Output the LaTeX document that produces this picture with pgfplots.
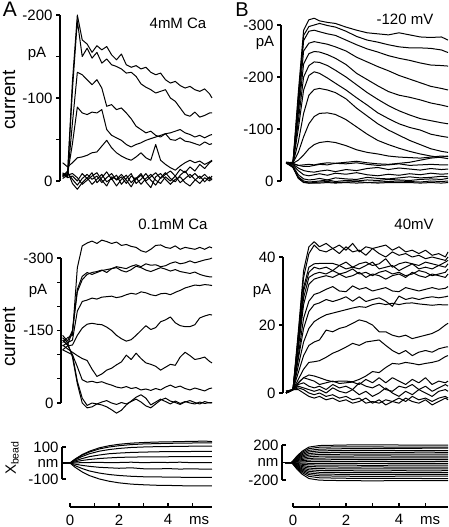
\documentclass[border=0pt]{standalone}
\usepackage{fontspec}
\setmainfont{Liberation Sans}
\usepackage{pgfplots}
\usepackage{pgfplotstable}
\pgfplotsset{compat=1.18}
\newcommand{\fs}[1]{\fontsize{#1}{#1}\selectfont}

% ---------- Panel A top (4mM Ca), magnitude of current in pA ----------
\pgfplotstableread{
id p1 p2 p3 p4 p5 p6 p7 p8 p9 p10 p11 p12 p13 p14 p15 p16 p17 p18 p19 p20 p21 p22 p23 p24 p25 p26 p27 p28 p29 p30 p31 p32
t -0.3 -0.1 0.1 0.3 0.5 0.7 0.9 1.1 1.3 1.5 1.7 1.9 2.1 2.3 2.5 2.7 2.9 3.1 3.3 3.5 3.7 3.9 4.1 4.3 4.5 4.7 4.9 5.1 5.3 5.5 5.7 5.8
a1 6 9 120 200 170 165 155 163 158 162 152 146 153 140 137 139 135 137 131 128 130 122 118 120 115 112 114 110 108 111 105 100
a2 8 6 110 193 150 160 148 155 142 147 140 138 135 130 131 126 117 113 110 106 108 110 100 96 88 80 78 83 77 79 82 82
a3 7 5 70 131 128 122 116 122 112 90 92 86 88 82 75 66 62 58 60 55 53 57 50 49 52 48 47 45 43 47 44 45
a4 6 8 45 89 82 80 83 82 86 62 55 52 49 44 41 44 46 49 51 53 55 57 58 60 62 58 56 53 55 52 55 56
a5 22 17 22 28 29 31 34 35 42 49 40 34 30 27 25 29 34 28 25 44 25 20 16 13 18 22 25 22 24 20 23 25
a6 8 10 2 -5 3 8 2 6 -2 4 9 1 5 -3 6 2 7 0 5 10 3 8 12 6 14 10 17 12 20 15 22 24
a7 5 12 -3 -10 -2 4 -4 2 8 -1 3 -6 2 7 -2 4 -4 3 8 1 -3 5 0 6 -2 3 8 2 -3 4 0 3
a8 10 4 6 0 9 3 10 -2 4 11 2 7 -4 3 9 -3 2 9 1 -5 4 10 3 -1 7 12 4 9 3 8 2 6
a9 3 7 9 4 -4 1 6 10 1 -6 5 2 8 1 -7 3 9 -1 -8 5 9 2 -4 2 5 -2 -6 1 6 -1 5 1
}\Araw
\pgfplotstabletranspose[colnames from=id]{\Atab}{\Araw}

% ---------- Panel A middle (0.1mM Ca) ----------
\pgfplotstableread{
id p1 p2 p3 p4 p5 p6 p7 p8 p9 p10 p11 p12 p13 p14 p15 p16 p17 p18 p19 p20 p21 p22 p23 p24 p25 p26 p27 p28 p29 p30 p31 p32
t -0.3 -0.1 0.1 0.3 0.5 0.7 0.9 1.1 1.3 1.5 1.7 1.9 2.1 2.3 2.5 2.7 2.9 3.1 3.3 3.5 3.7 3.9 4.1 4.3 4.5 4.7 4.9 5.1 5.3 5.5 5.7 5.8
m1 125 135 140 280 325 331 335 330 337 334 330 333 326 328 324 322 315 312 318 326 327 322 320 325 318 322 320 318 322 318 323 321
m2 140 128 150 235 262 270 266 270 274 276 278 282 280 278 283 286 282 288 285 286 282 284 289 292 288 290 294 290 293 296 298 300
m3 130 120 148 230 255 266 270 272 275 270 278 280 274 271 276 283 280 275 272 276 280 277 273 276 272 270 268 271 266 263 261 261
m4 118 125 130 190 210 213 217 215 219 220 221 218 220 224 227 225 230 228 224 222 226 227 224 229 233 238 241 244 243 245 244 243
m5 110 118 120 140 155 163 165 163 162 157 150 140 133 128 131 140 150 160 152 156 168 172 178 166 160 158 158 162 176 180 183 182
m6 120 112 105 98 92 88 70 55 60 68 72 79 85 99 90 103 92 83 80 76 68 74 80 78 95 105 98 90 92 95 86 83
m7 110 105 100 75 48 43 45 42 44 40 37 33 31 34 30 32 27 29 26 30 27 33 37 32 35 30 27 31 28 25 30 31
m8 130 120 100 45 10 -5 0 -2 -4 -8 -14 -21 -15 -4 4 12 17 10 -4 2 8 3 -2 4 -1 3 0 -2 2 -1 1 0
m9 135 125 95 40 0 -10 -8 -2 2 5 0 -3 1 -2 3 8 2 -6 -10 -2 6 10 4 1 -3 2 5 1 -2 3 0 1
}\Mraw
\pgfplotstabletranspose[colnames from=id]{\Mtab}{\Mraw}

% ---------- Panel B top (-120 mV) ----------
\pgfplotstableread{
id q1 q2 q3 q4 q5 q6 q7 q8 q9 q10 q11 q12 q13 q14 q15 q16 q17 q18 q19 q20
t -0.26 0 0.2 0.4 0.6 0.8 1.0 1.3 1.6 2.0 2.4 2.8 3.2 3.6 4.0 4.4 4.8 5.2 5.6 5.85
b1 35 36 170 290 310 313 308 305 303 296 290 285 283 281 285 281 277 276 277 271
b2 34 35 160 280 297 300 303 299 296 288 278 271 267 262 258 256 256 255 252 247
b3 35 35 150 270 288 290 287 283 280 271 262 254 248 241 236 232 227 223 222 221
b4 36 35 140 250 265 268 266 263 258 250 238 229 220 212 203 196 189 182 178 175
b5 34 36 130 225 245 249 248 243 236 224 207 195 183 172 165 161 156 150 146 143
b6 35 35 115 200 222 229 228 222 213 200 185 170 157 145 135 127 120 116 112 110
b7 36 35 100 175 203 210 207 198 188 175 160 146 131 120 110 103 98 90 86 84
b8 35 34 75 130 165 176 178 175 170 158 140 125 110 98 88 78 70 62 57 55
b9 34 35 55 85 110 124 130 131 128 118 104 90 78 70 63 57 52 48 45 43
b10 35 34 40 50 62 70 74 76 74 68 60 55 52 48 46 45 44 46 48 47
b11 35 34 30 31 32 31 33 35 34 36 38 35 33 32 34 36 40 44 46 48
b12 36 33 30 28 28 30 32 31 34 33 35 32 30 31 33 30 31 32 31 31
b13 34 32 25 20 18 17 19 21 18 22 20 24 26 22 25 23 21 24 22 23
b14 35 30 20 12 10 12 14 11 15 13 16 12 10 13 11 14 12 15 13 14
b15 34 28 12 4 2 3 5 2 6 4 3 7 5 4 6 8 6 7 9 8
b16 35 27 8 0 -2 -1 0 2 -1 1 0 2 1 3 2 1 3 4 3 5
b17 36 26 6 -2 -4 -3 -2 -1 -3 -2 -1 -3 -2 -1 0 -1 -2 0 -1 0
b18 35 26 5 -3 -4 -4 -4 -3 -4 -3 -4 -3 -4 -3 -3 -3 -4 -3 -4 -3
}\Braw
\pgfplotstabletranspose[colnames from=id]{\Btab}{\Braw}

% ---------- Panel B middle (40mV) ----------
\pgfplotstableread{
id r1 r2 r3 r4 r5 r6 r7 r8 r9 r10 r11 r12 r13 r14 r15 r16 r17 r18 r19 r20 r21 r22 r23 r24 r25 r26 r27
t -0.26 0 0.2 0.4 0.6 0.8 1.0 1.25 1.5 1.75 2.0 2.25 2.5 2.75 3.0 3.25 3.5 3.75 4.0 4.25 4.5 4.75 5.0 5.25 5.5 5.75 5.85
c1 0 1 18 36 43 44.5 43 44 42.5 43.5 42 44 41.5 43 42.5 43 43.5 42 43 41.5 42 41 42 40.5 41 40 41.5
c2 0.5 1 17 34 41 43.5 42 41.5 42.5 41 43 41.5 42 40.5 42.5 41 40 41.5 40.5 41 40 40.5 39.5 40 39.5 39 40
c3 0 1 16 31 37 38 38.1 38.1 38.1 37.5 38.5 37 38 38.5 37.5 38 39.5 37 38 38.5 38 37.5 38.5 38 37.5 38.5 39
c4 0.5 1 15 30 35.5 37 36.5 37 36 37.5 36.5 37 36.5 37.5 38.5 36.5 37 37.5 36 37 38 36.5 37 36.5 37.5 37 38
c5 0 1 14 28 34 35 35.5 35 36 35 35.5 36.5 35 35.5 34.5 35.5 36 35 35.5 34.5 35 36 35.5 34.5 35 35.5 36.5
c6 0.5 1 13 26 32 33.5 34 34.5 34 35 34 34.5 35.5 34 35 34.5 33.5 34.5 35 34 35.5 34.5 34 35 34.5 34 35
c7 0 1 11 22 27 29 29.5 30.5 31.3 30 29.8 31.5 30.5 31 30 30.5 31 30 29.8 31 30.5 30 30.5 31 30.5 30.8 31.3
c8 0.5 1 10 19 24 26 26.5 27.5 26.9 27.5 28.3 27 28.3 26.9 27.5 28 27 25.5 28.5 27.5 28 27.5 28 28.3 28 28.3 28.5
c9 0 1 8 15 19 21 22 23 23.5 24 24.5 25 25.4 25.2 26 26.4 26 26.4 26 26.4 26.5 26.2 26 25.8 26 25.9 25.9
c10 0 1 6 11 14 15 15.6 18.5 18 19 19.5 20.5 21.5 21 20 18 18 17 16.5 17 16 16.5 17 17.5 18.5 20 20.5
c11 0 1 4 7 9 9.2 9.5 10.5 11.7 12.5 13.5 14.6 14 15 15.3 15.6 14 12.5 11.5 12.5 11 12 12.5 12 13 13.5 13.6
c12 0 1 3 4.5 5.3 5 4.5 3.8 3.3 3.5 3.5 3.3 4 5 6.3 6 7.5 8.7 8.5 9 8.7 8.3 8.7 9 9.5 10.7 11
c13 0 1 3 4.5 4 3.5 2.5 3 3.5 2.8 3 3.2 2.5 4 3 4.5 3 4.5 3.5 2.5 4 3 4.5 2.5 3.5 3 3.5
c14 0 1 2.5 3 2 1.5 2 1 2.5 1.5 2 1 3 2 1.5 2.5 1 0.5 2 1.5 2.5 1 2 0.5 1.5 2.5 2
c15 0 1 1.5 1 0 -0.5 0 -1 -0.5 -1.5 -1 -2 -1.5 -3 -2.5 -3 -2 -2.5 -1.5 -2.5 -1 -2 -1.5 -2.5 -1.5 -1 -1.5
c16 0 1 1 0 -1 -1.5 -1 -2 -1.5 -2.5 -2 -3 -2.5 -1.5 -3 -2 -3.5 -2.5 -3 -1.5 -2.5 -3 -2 -3.5 -2.5 -1.5 -2
c17 0 1 2 1.5 1 0.5 1 0 1.5 0.5 0 1 -0.5 0.5 -1 0 1.5 0 -1 0.5 -0.5 1 0 -1 0.5 1 0.5
}\Craw
\pgfplotstabletranspose[colnames from=id]{\Ctab}{\Craw}

% ---------- Panel A bottom (bead position, nm) ----------
\pgfplotstableread{
id s1 s2 s3 s4 s5 s6 s7 s8 s9 s10 s11 s12 s13 s14 s15 s16
t -0.33 0 0.2 0.5 0.8 1.2 1.6 2.0 2.5 3.0 3.5 4.0 4.5 5.0 5.5 5.8
x1 0 0 24 53 74 95 108 117 124 128 131 132 134 135 137 134
x2 0 0 22 49 69 88 100 108 115 119 121 123 124 125 126 125
x3 0 0 19 41 58 74 84 91 97 100 102 103 104 105 105 106
x4 0 0 13 28 40 50 58 62 66 68 70 71 71 72 72 72
x5 0 0 7 16 22 28 32 35 37 38 39 39 40 40 40 40
x6 0 0 1 2 3 4 2 3 5 2 4 3 5 2 3 3
x7 0 0 -7 -15 -21 -27 -30 -33 -30 -36 -37 -35 -38 -36 -39 -38
x8 0 0 -16 -35 -50 -63 -72 -78 -83 -86 -87 -88 -89 -90 -90 -90
x9 0 0 -26 -56 -79 -100 -114 -124 -132 -136 -139 -140 -142 -143 -143 -143
}\Draw
\pgfplotstabletranspose[colnames from=id]{\Dtab}{\Draw}

% ---------- Panel B bottom (bead position, nm) ----------
\pgfplotstableread{
id u1 u2 u3 u4 u5 u6 u7 u8 u9 u10 u11
t -0.3 -0.05 0.15 0.35 0.6 1.0 2.0 3.0 4.0 5.0 5.85
y1 0 0 74 130 176 194 200 201 200 200 200
y2 0 0 67 117 158 175 180 178 176 175 176
y3 0 0 58 103 139 153 158 160 162 163 165
y4 0 0 51 89 121 133 137 138 137 136 137
y5 0 0 43 75 102 113 116 117 116 118 116
y6 0 0 35 62 84 92 95 96 95 96 95
y7 0 0 27 48 65 72 74 75 74 73 74
y8 0 0 20 34 47 51 53 54 53 52 53
y9 0 0 12 21 28 31 32 33 32 32 32
y10 0 0 4 7 10 11 11 12 11 11 12
y11 0 0 -4 -7 -9 -10 -10 -11 -10 -10 -10
y12 0 0 -11 -20 -27 -30 -31 -32 -31 -31 -31
y13 0 0 -19 -34 -46 -50 -52 -51 -52 -53 -52
y14 0 0 -27 -47 -64 -71 -73 -74 -73 -73 -73
y15 0 0 -35 -61 -83 -91 -94 -95 -94 -95 -94
y16 0 0 -43 -75 -101 -112 -115 -116 -115 -115 -115
y17 0 0 -50 -88 -120 -132 -136 -137 -136 -137 -136
y18 0 0 -58 -102 -138 -152 -157 -158 -157 -157 -157
y19 0 0 -67 -117 -158 -175 -180 -181 -182 -183 -184
y20 0 0 -77 -135 -183 -202 -208 -209 -208 -208 -208
}\Eraw
\pgfplotstabletranspose[colnames from=id]{\Etab}{\Eraw}

\pgfplotsset{
  tr/.style={black, line width=1pt, line join=round, mark=none},
  panel/.style={scale only axis, clip=false, anchor=south west,
    hide x axis, axis y line*=left,
    y axis line style={-, line width=1.2pt, black},
    ytick style={line width=1.2pt, black},
    tick align=outside, major tick length=4pt,
    yticklabel style={font=\fs{15}},
  },
  taxis/.style={scale only axis, clip=false, anchor=south west, height=6pt,
    xmin=0, ymin=0, ymax=1, hide y axis, axis x line*=bottom,
    x axis line style={-, line width=1.2pt, black},
    xtick style={line width=1.2pt, black},
    tick align=inside, major tick length=4pt,
    xtick={0,1,2,3,4,5}, xticklabels={0,,2,,4,},
    xticklabel style={font=\fs{15}, yshift=-4pt},
  },
}

\begin{document}
\begin{tikzpicture}
\useasboundingbox (0pt,0pt) rectangle (448pt,527pt);

% A top
\begin{axis}[panel, at={(60pt,346pt)}, width=152pt, height=166pt,
  xmin=-0.408, xmax=5.8, ymin=0, ymax=200,
  ytick={0,50,100,150,200}, yticklabels={0,,-100,,-200}]
\pgfplotsinvokeforeach{a1,a2,a3,a4,a5,a6,a7,a8,a9}{\addplot[tr] table[x=t,y=#1]{\Atab};}
\end{axis}

% A middle
\begin{axis}[panel, at={(61pt,124pt)}, width=151pt, height=145pt,
  xmin=-0.367, xmax=5.8, ymin=0, ymax=300,
  ytick={0,50,100,150,200,250,300}, yticklabels={0,,,-150,,,-300}]
\pgfplotsinvokeforeach{m1,m2,m3,m4,m5,m6,m7,m8,m9}{\addplot[tr] table[x=t,y=#1]{\Mtab};}
\end{axis}

% A bottom
\begin{axis}[panel, at={(62pt,48pt)}, width=150pt, height=32pt,
  xmin=-0.327, xmax=5.8, ymin=-100, ymax=100, tick align=inside,
  ytick={-100,0,100}, yticklabels={-100,nm,100}]
\pgfplotsinvokeforeach{x1,x2,x3,x4,x5,x6,x7,x8,x9}{\addplot[tr] table[x=t,y=#1]{\Dtab};}
\end{axis}

% A time axis
\begin{axis}[taxis, at={(70pt,20pt)}, width=142pt, xmax=5.8]
\addplot[draw=none] coordinates {(0,0)};
\end{axis}

% B top
\begin{axis}[panel, at={(281pt,346pt)}, width=167pt, height=156pt,
  xmin=-0.453, xmax=5.849, ymin=0, ymax=300,
  ytick={0,100,200,300}, yticklabels={0,-100,-200,-300}]
\pgfplotsinvokeforeach{b1,b2,b3,b4,b5,b6,b7,b8,b9,b10,b11,b12,b13,b14,b15,b16,b17,b18}{\addplot[tr] table[x=t,y=#1]{\Btab};}
\end{axis}

% B middle
\begin{axis}[panel, at={(283pt,134pt)}, width=165pt, height=136pt,
  xmin=-0.377, xmax=5.849, ymin=0, ymax=40,
  ytick={0,20,40}, yticklabels={0,20,40}]
\pgfplotsinvokeforeach{c1,c2,c3,c4,c5,c6,c7,c8,c9,c10,c11,c12,c13,c14,c15,c16,c17}{\addplot[tr] table[x=t,y=#1]{\Ctab};}
\end{axis}

% B bottom
\begin{axis}[panel, at={(282pt,47pt)}, width=166pt, height=35pt,
  xmin=-0.415, xmax=5.849, ymin=-200, ymax=200, tick align=inside,
  ytick={-200,0,200}, yticklabels={-200,nm,200}]
\pgfplotsinvokeforeach{y1,y2,y3,y4,y5,y6,y7,y8,y9,y10,y11,y12,y13,y14,y15,y16,y17,y18,y19,y20}{\addplot[tr] table[x=t,y=#1]{\Etab};}
\end{axis}

% B time axis
\begin{axis}[taxis, at={(293pt,20pt)}, width=155pt, xmax=5.849]
\addplot[draw=none] coordinates {(0,0)};
\end{axis}

% Labels
\node[anchor=base, font=\fs{21}] at (10pt,510pt) {A};
\node[anchor=base, font=\fs{20}] at (242pt,510pt) {B};
\node[anchor=base, font=\fs{15}] at (178pt,498.7pt) {4mM Ca};
\node[anchor=base, font=\fs{15}] at (405pt,502pt) {-120 mV};
\node[anchor=base, font=\fs{15}] at (173pt,297.7pt) {0.1mM Ca};
\node[anchor=base, font=\fs{15}] at (414pt,297.7pt) {40mV};
\node[anchor=base, font=\fs{15}] at (37pt,469.7pt) {pA};
\node[anchor=base, font=\fs{15}] at (265pt,480.3pt) {pA};
\node[anchor=base, font=\fs{15}] at (38pt,232.7pt) {pA};
\node[anchor=base, font=\fs{15}] at (262pt,232.7pt) {pA};
\node[anchor=base, rotate=90, font=\fs{19}, inner sep=0pt] at (15pt,427pt) {current};
\node[anchor=base, rotate=90, font=\fs{19}, inner sep=0pt] at (15pt,190pt) {current};
\node[anchor=base, rotate=90, font=\fs{15}, inner sep=0pt] at (16pt,69pt) {X\textsubscript{bead}};
\node[anchor=base, font=\fs{15}] at (199pt,2pt) {ms};
\node[anchor=base, font=\fs{15}] at (430pt,2pt) {ms};
\end{tikzpicture}
\end{document}
